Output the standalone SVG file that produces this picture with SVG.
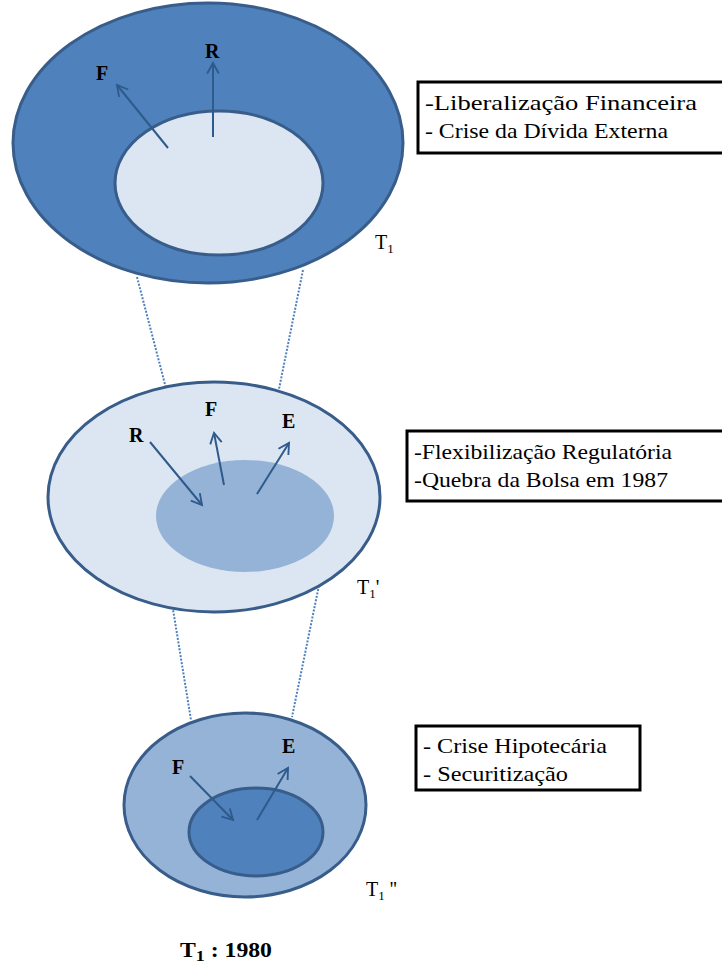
<svg xmlns="http://www.w3.org/2000/svg" width="722" height="963" viewBox="0 0 722 963">
  <style>
    .ring { stroke: #385D8A; stroke-width: 3; }
    .dark { fill: #4F81BD; }
    .mid { fill: #95B3D7; }
    .light { fill: #DCE6F2; }
    .link { fill: none; stroke: #4F81BD; stroke-width: 2; stroke-dasharray: 2 1.5; }
    .arrow { fill: none; stroke: #2E5A8C; stroke-width: 2; marker-end: url(#head); }
    .lbl { font-family: "Liberation Serif", "Times New Roman", serif; font-weight: bold; font-size: 20px; fill: #000; }
    .box { fill: #fff; stroke: #000; stroke-width: 3; }
    .note { font-family: "Liberation Serif", "Times New Roman", serif; font-size: 21px; fill: #000; }
    .tlab { font-family: "Liberation Serif", "Times New Roman", serif; font-size: 20px; fill: #000; }
  </style>
  <defs>
    <marker id="head" viewBox="0 0 12 12" refX="10" refY="6" markerWidth="7" markerHeight="7" markerUnits="strokeWidth" orient="auto">
      <path d="M1,1 L10,6 L1,11" fill="none" stroke="#2E5A8C" stroke-width="1.6"/>
    </marker>
  </defs>

  <rect width="722" height="963" fill="#fff"/>

  <!-- connectors between the three stages -->
  <g id="connectors">
    <line class="link" x1="137" y1="277" x2="167" y2="392"/>
    <line class="link" x1="303" y1="270" x2="278" y2="394"/>
    <line class="link" x1="158" y1="517" x2="191" y2="720"/>
    <line class="link" x1="333" y1="517" x2="292" y2="717"/>
  </g>

  <!-- stage T1 -->
  <g id="stage1">
    <ellipse class="ring dark" cx="208" cy="143" rx="195" ry="140"/>
    <ellipse class="ring light" cx="219" cy="183" rx="104" ry="72"/>
    <line class="arrow" x1="168" y1="148" x2="117" y2="85"/>
    <line class="arrow" x1="213" y1="137" x2="213" y2="63"/>
    <text class="lbl" x="96" y="80">F</text>
    <text class="lbl" x="205" y="58">R</text>
  </g>

  <g id="note1">
    <rect class="box" x="418" y="82" width="306" height="71"/>
    <text class="note" x="425" y="110" textLength="272" lengthAdjust="spacingAndGlyphs">-Liberalização Financeira</text>
    <text class="note" x="425" y="138" textLength="243" lengthAdjust="spacingAndGlyphs">- Crise da Dívida Externa</text>
  </g>
  <text class="tlab" x="375" y="249">T<tspan font-size="13" dy="4">1</tspan></text>

  <!-- stage T1' -->
  <g id="stage2">
    <ellipse class="ring light" cx="214" cy="497" rx="166" ry="115"/>
    <ellipse class="mid" cx="245" cy="516" rx="89" ry="56"/>
    <line class="arrow" x1="150" y1="442" x2="202" y2="505"/>
    <line class="arrow" x1="224" y1="485" x2="214" y2="433"/>
    <line class="arrow" x1="257" y1="494" x2="289" y2="443"/>
    <text class="lbl" x="129" y="442">R</text>
    <text class="lbl" x="205" y="416">F</text>
    <text class="lbl" x="282" y="428">E</text>
  </g>

  <g id="note2">
    <rect class="box" x="407" y="431" width="317" height="70"/>
    <text class="note" x="414" y="459" textLength="258" lengthAdjust="spacingAndGlyphs">-Flexibilização Regulatória</text>
    <text class="note" x="414" y="487" textLength="254" lengthAdjust="spacingAndGlyphs">-Quebra da Bolsa em 1987</text>
  </g>
  <text class="tlab" x="357" y="594">T<tspan font-size="13" dy="4">1</tspan><tspan dy="-4">'</tspan></text>

  <!-- stage T1'' -->
  <g id="stage3">
    <ellipse class="ring mid" cx="245" cy="805" rx="121" ry="92"/>
    <ellipse class="ring dark" cx="256" cy="832" rx="67" ry="44"/>
    <line class="arrow" x1="190" y1="776" x2="233" y2="820"/>
    <line class="arrow" x1="257" y1="820" x2="288" y2="768"/>
    <text class="lbl" x="172" y="774">F</text>
    <text class="lbl" x="282" y="753">E</text>
  </g>

  <g id="note3">
    <rect class="box" x="416" y="726" width="224" height="64"/>
    <text class="note" x="423" y="753" textLength="184" lengthAdjust="spacingAndGlyphs">- Crise Hipotecária</text>
    <text class="note" x="423" y="781" textLength="145" lengthAdjust="spacingAndGlyphs">- Securitização</text>
  </g>
  <text class="tlab" x="366" y="896">T<tspan font-size="13" dy="4">1</tspan><tspan dy="-4"> ''</tspan></text>

  <text class="tlab" font-weight="bold" font-size="24" x="180" y="957" textLength="92" lengthAdjust="spacingAndGlyphs">T<tspan font-size="15" dy="4">1</tspan><tspan dy="-4"> :  1980</tspan></text>
</svg>
